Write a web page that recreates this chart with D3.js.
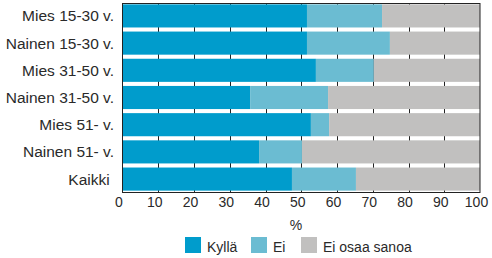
<!DOCTYPE html>
<html>
<head>
<meta charset="utf-8">
<script src="https://cdn.jsdelivr.net/npm/d3@7"></script>
<style>
  body { margin: 0; background: #fff; }
  svg { font-family: Arial, "Liberation Sans", sans-serif; }
  .cat { white-space: pre; }
</style>
</head>
<body>
<div id="chart"></div>
<script>
const categories = ["Mies 15-30 v.", "Nainen 15-30 v.", "Mies 31-50 v.", "Nainen 31-50 v.", "Mies 51- v.", "Nainen 51- v.", "Kaikki "];
const seriesNames = ["Kyllä", "Ei", "Ei osaa sanoa"];
const kylla = [51.6, 51.6, 54.1, 35.7, 52.7, 38.2, 47.4];
const ei = [21.0, 23.2, 16.2, 21.8, 5.1, 12.0, 17.9];
const eos = [27.4, 25.2, 29.7, 42.5, 42.2, 49.8, 34.7];
const xTicks = [0, 10, 20, 30, 40, 50, 60, 70, 80, 90, 100];
const colors = ["#009ccc", "#6bbcd2", "#c1c0bf"];

const width = 492, height = 258;
const plotLeft = 122.5, plotRight = 480, plotTop = 3, plotBottom = 192;

const svg = d3.select("#chart").append("svg")
    .attr("width", width)
    .attr("height", height);

const x = d3.scaleLinear().domain([0, 100]).range([plotLeft, plotRight]);
const y = d3.scaleBand().domain(categories).range([plotTop, plotBottom])
    .paddingInner(0.15).paddingOuter(0.05);

const rows = categories.map((c, i) => ({ cat: c, "Kyllä": kylla[i], "Ei": ei[i], "Ei osaa sanoa": eos[i] }));
const stack = d3.stack().keys(seriesNames)(rows);

// grid lines behind bars
svg.append("g").selectAll("line")
    .data(xTicks.slice(1, -1))
    .join("line")
    .attr("x1", d => Math.round(x(d)) + 0.5)
    .attr("x2", d => Math.round(x(d)) + 0.5)
    .attr("y1", plotTop)
    .attr("y2", plotBottom)
    .attr("stroke", "#222");

svg.append("g").selectAll("g")
    .data(stack)
    .join("g")
    .attr("fill", (d, i) => colors[i])
    .selectAll("rect")
    .data(d => d)
    .join("rect")
    .attr("x", d => x(d[0]))
    .attr("width", d => x(d[1]) - x(d[0]))
    .attr("y", d => y(d.data.cat))
    .attr("height", y.bandwidth());

// frame
svg.append("rect")
    .attr("x", Math.round(plotLeft) - 0.5)
    .attr("y", plotTop + 0.5)
    .attr("width", Math.round(plotRight) - Math.round(plotLeft) + 0.5)
    .attr("height", plotBottom - plotTop)
    .attr("fill", "none")
    .attr("stroke", "#222");

// category labels
svg.append("g").selectAll("text")
    .data(categories)
    .join("text")
    .attr("class", "cat")
    .attr("x", 114)
    .attr("y", d => y(d) + y.bandwidth() / 2 + 5.5)
    .attr("text-anchor", "end")
    .attr("font-size", "15.5px")
    .attr("fill", "#2a2a2a")
    .text(d => d);

// x tick labels
svg.append("g").selectAll("text")
    .data(xTicks)
    .join("text")
    .attr("x", d => x(d) - 3.5)
    .attr("y", 207)
    .attr("text-anchor", "middle")
    .attr("font-size", "14px")
    .attr("fill", "#2a2a2a")
    .text(d => d);

svg.append("text")
    .attr("x", 296)
    .attr("y", 230)
    .attr("text-anchor", "middle")
    .attr("font-size", "14px")
    .attr("fill", "#2a2a2a")
    .text("%");

// legend
const legendX = [185, 251, 301];
const lg = svg.append("g").selectAll("g")
    .data(seriesNames)
    .join("g")
    .attr("transform", (d, i) => `translate(${legendX[i]},237)`);
lg.append("rect")
    .attr("width", 16)
    .attr("height", 16)
    .attr("fill", (d, i) => colors[i]);
lg.append("text")
    .attr("x", 22)
    .attr("y", 15)
    .attr("font-size", "14px")
    .attr("fill", "#2a2a2a")
    .text(d => d);
</script>
</body>
</html>
